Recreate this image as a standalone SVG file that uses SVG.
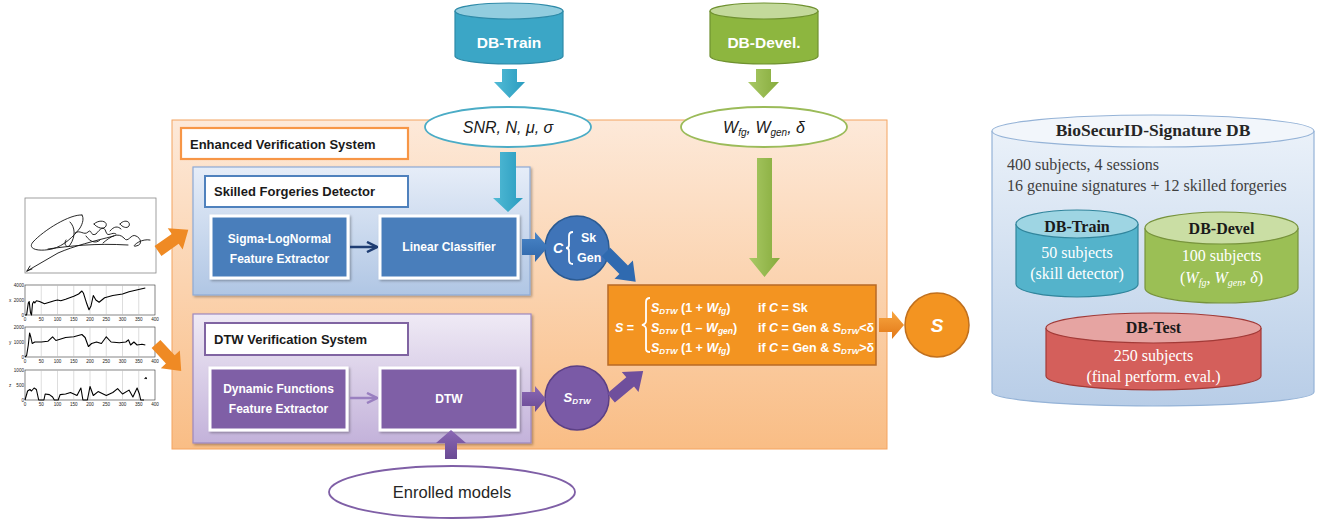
<svg xmlns="http://www.w3.org/2000/svg" width="1320" height="521" viewBox="0 0 1320 521">
<defs>
  <linearGradient id="gEnh" x1="0" y1="0" x2="0" y2="1"><stop offset="0" stop-color="#fde9d9"/><stop offset="1" stop-color="#f9bd85"/></linearGradient>
  <linearGradient id="gSk" x1="0" y1="0" x2="0" y2="1"><stop offset="0" stop-color="#e6edf8"/><stop offset="1" stop-color="#b0c6e4"/></linearGradient>
  <linearGradient id="gDtw" x1="0" y1="0" x2="0" y2="1"><stop offset="0" stop-color="#efeaf5"/><stop offset="1" stop-color="#c3b2da"/></linearGradient>
  <linearGradient id="gBio" x1="0" y1="0" x2="0" y2="1"><stop offset="0" stop-color="#eaf1f9"/><stop offset="1" stop-color="#b8cde7"/></linearGradient>
  <linearGradient id="gCyan" x1="0" y1="0" x2="1" y2="0"><stop offset="0" stop-color="#52bbd6"/><stop offset="1" stop-color="#2a9cbf"/></linearGradient>
  <linearGradient id="gGreen" x1="0" y1="0" x2="1" y2="0"><stop offset="0" stop-color="#a9c965"/><stop offset="1" stop-color="#86ab3c"/></linearGradient>
  <linearGradient id="gBlue" x1="0" y1="0" x2="0" y2="1"><stop offset="0" stop-color="#4a86c8"/><stop offset="1" stop-color="#2e65a8"/></linearGradient>
  <linearGradient id="gPurp" x1="0" y1="0" x2="0" y2="1"><stop offset="0" stop-color="#8a68b4"/><stop offset="1" stop-color="#6a4a94"/></linearGradient>
  <linearGradient id="gOr" x1="0" y1="0" x2="0" y2="1"><stop offset="0" stop-color="#f8a640"/><stop offset="1" stop-color="#e27817"/></linearGradient>
  <filter id="sh" x="-10%" y="-10%" width="130%" height="130%"><feDropShadow dx="1.5" dy="1.5" stdDeviation="1.2" flood-color="#000" flood-opacity="0.3"/></filter>
  <marker id="mDB" viewBox="0 0 10 10" refX="9" refY="5" markerWidth="5" markerHeight="5" orient="auto"><path d="M1,1 L9,5 L1,9" fill="none" stroke="#1f3d73" stroke-width="2"/></marker>
  <marker id="mPU" viewBox="0 0 10 10" refX="9" refY="5" markerWidth="5" markerHeight="5" orient="auto"><path d="M1,1 L9,5 L1,9" fill="none" stroke="#9a80c0" stroke-width="2"/></marker>
  <path id="arr40" d="M0,-6 L25,-6 L25,-13 L42,0 L25,13 L25,6 L0,6 Z"/>
  <path id="arr37" d="M0,-6 L21,-6 L21,-13 L37,0 L21,13 L21,6 L0,6 Z"/>
</defs>
<style>
  .sans{font-family:"Liberation Sans",Arial,sans-serif}
  .serif{font-family:"Liberation Serif","Times New Roman",serif}
  .ttl{font-family:"Liberation Sans",Arial,sans-serif;font-weight:bold;font-size:13px;fill:#1a1a1a}
  .wb{font-family:"Liberation Sans",Arial,sans-serif;font-weight:bold;font-size:12px;fill:#ffffff}
  .fx{font-family:"Liberation Sans",Arial,sans-serif;font-weight:bold;font-size:12.5px;fill:#ffffff}
  .tick{font-family:"Liberation Sans",Arial,sans-serif;font-size:4.6px;fill:#222}
  .plot{fill:none;stroke:#000;stroke-width:1.1;stroke-linejoin:round}
  .grid{stroke:#bbb;stroke-width:0.5}
  .axis{fill:#fff;stroke:#333;stroke-width:0.6}
  .sig{fill:none;stroke:#111;stroke-width:0.9;stroke-linecap:round}
  .db{font-family:"Liberation Serif","Times New Roman",serif;font-size:16px;fill:#ffffff;text-anchor:middle}
  .dbh{font-family:"Liberation Serif","Times New Roman",serif;font-size:16px;font-weight:bold;fill:#1a1a1a;text-anchor:middle}
</style>

<!-- Left input: signature image and plots -->
<g id="input-signature">
  <rect x="25" y="198" width="131" height="75" fill="#fff" stroke="#888" stroke-width="0.8"/>
  <path class="sig" d="M82,215 C70,214 44,230 33,242 C27,249 38,252 52,249 C64,246 74,236 80,228 C83,223 84,218 82,215"/>
  <path class="sig" d="M27,271 L30,266 M27,271 L32,269 M27,271 L58,253 C74,246 94,241 114,236"/>
  <path class="sig" d="M48,249 C70,246 95,243 128,245"/>
  <path class="sig" d="M70,222 C75,227 76,236 70,245 C67,249 63,244 66,240 M75,233 C80,229 84,236 88,232 C92,228 90,237 96,234 C100,229 104,225 106,232 C108,238 112,231 116,234 M94,224 C99,219 108,221 106,226 C104,230 97,228 94,224 M86,236 C90,242 96,244 100,240"/>
  <path class="sig" d="M103,243 C111,236 118,232 124,238 C128,244 131,233 136,236 C141,238 143,245 136,246 C130,248 140,238 150,240 M120,224 C124,219 131,221 129,226 C127,229 122,227 120,224 M110,231 C114,226 118,226 121,229"/>
</g>
<g id="input-plots">
  <rect class="axis" x="25" y="285" width="130" height="30"/>
  <rect class="axis" x="25" y="327" width="130" height="30"/>
  <rect class="axis" x="25" y="370" width="130" height="30"/>
  <g class="grid">
    <path d="M41.25,285V315M57.5,285V315M73.75,285V315M90,285V315M106.25,285V315M122.5,285V315M138.75,285V315"/>
    <path d="M41.25,327V357M57.5,327V357M73.75,327V357M90,327V357M106.25,327V357M122.5,327V357M138.75,327V357"/>
    <path d="M41.25,370V400M57.5,370V400M73.75,370V400M90,370V400M106.25,370V400M122.5,370V400M138.75,370V400"/>
  </g>
  <polyline class="plot" points="25,315 26.6,315 28.3,303 29.2,301.5 30.5,312.8 31.5,315 32.5,303.8 33.8,301.5 34.8,303 36.4,300.8 39.6,301.5 44.5,303.8 49.4,302.3 54.3,300.8 57.5,300 60.8,300.8 65.6,299.3 73.8,296.3 78.6,294 81.9,291 83.5,293.3 86.8,303.8 89,309.8 91,306 93.3,295.5 95.9,300 99.1,302.3 104.6,297.8 112.8,295.5 122.5,294 129,291.8 135.5,290.3 142,288.8 145.3,288"/>
  <polyline class="plot" points="25,357 26.6,355.5 28.3,345 29.6,333 30.9,337.5 32.2,343.5 34.8,342 41.3,342 47.8,341.3 52.6,336.8 55.9,340.5 60.8,339 65.6,337.5 73.8,336.8 81.9,334.5 85.1,337.5 88.4,346.5 91.6,343.5 96.5,342 101.4,343.5 106.3,336.8 111.1,342 119.3,342.8 125.8,342 128.4,339.8 130.6,345 133.9,342 137.1,345 142,344.3 145.3,345"/>
  <polyline class="plot" points="25,400 27.6,391 29.9,389.5 31.5,391 34.1,388 36.4,389.5 38.7,400 43.9,400 45.2,394 49.4,394.6 52.6,397 54.3,400 58.2,400 60.1,394.6 65.6,394 70.5,392.5 77,395.5 80.9,388 82.9,400 87.4,400 90,386.5 93.3,395.5 98.1,391.6 106.3,395.5 112.8,392.5 117.6,388.6 122.5,394 129,390.1 132.9,397 137.1,388 139.4,394 140.7,400 144,400"/>
  <polyline class="plot" points="144.6,379 145.9,377.5 146.6,379"/>
  <g class="tick" text-anchor="end">
    <text x="24" y="287">4000</text><text x="24" y="302">2000</text><text x="24" y="316.5">0</text>
    <text x="24" y="329">2000</text><text x="24" y="344">1000</text><text x="24" y="358.5">0</text>
    <text x="24" y="372">1000</text><text x="24" y="387">500</text><text x="24" y="401.5">0</text>
  </g>
  <g class="tick">
    <text x="9" y="302">x</text><text x="9" y="344">y</text><text x="9" y="387">z</text>
  </g>
  <g class="tick" text-anchor="middle">
    <text x="25" y="321">0</text><text x="41.25" y="321">50</text><text x="57.5" y="321">100</text><text x="73.75" y="321">150</text><text x="90" y="321">200</text><text x="106.25" y="321">250</text><text x="122.5" y="321">300</text><text x="138.75" y="321">350</text><text x="155" y="321">400</text>
    <text x="25" y="363">0</text><text x="41.25" y="363">50</text><text x="57.5" y="363">100</text><text x="73.75" y="363">150</text><text x="90" y="363">200</text><text x="106.25" y="363">250</text><text x="122.5" y="363">300</text><text x="138.75" y="363">350</text><text x="155" y="363">400</text>
    <text x="25" y="406">0</text><text x="41.25" y="406">50</text><text x="57.5" y="406">100</text><text x="73.75" y="406">150</text><text x="90" y="406">200</text><text x="106.25" y="406">250</text><text x="122.5" y="406">300</text><text x="138.75" y="406">350</text><text x="155" y="406">400</text>
  </g>
</g>

<!-- Enhanced Verification System container -->
<g id="enhanced-system">
  <rect x="172" y="120" width="715" height="329" fill="url(#gEnh)" stroke="#f4a460" stroke-width="1"/>
  <rect x="181" y="128" width="227" height="31" fill="#fff" stroke="#f79646" stroke-width="2.2"/>
  <text class="ttl" x="190" y="148.5">Enhanced Verification System</text>
</g>

<g id="skilled-detector">
  <rect x="193" y="167" width="337" height="128" fill="url(#gSk)" stroke="#8eaad6" stroke-width="1.2" filter="url(#sh)"/>
  <rect x="205" y="176" width="203" height="31" fill="#fff" stroke="#4f81bd" stroke-width="2"/>
  <text class="ttl" x="214" y="196">Skilled Forgeries Detector</text>
</g>
<g id="sigma-lognormal">
  <rect x="211" y="216" width="137" height="62" fill="#4a7ebb" stroke="#fff" stroke-width="3" filter="url(#sh)"/>
  <text class="wb" x="279.5" y="243" text-anchor="middle">Sigma-LogNormal</text>
  <text class="wb" x="279.5" y="263" text-anchor="middle">Feature Extractor</text>
</g>
<g id="linear-classifier">
  <rect x="380" y="216" width="138" height="62" fill="#4a7ebb" stroke="#fff" stroke-width="3" filter="url(#sh)"/>
  <text class="wb" x="449" y="251" text-anchor="middle">Linear Classifier</text>
</g>

<g id="dtw-system">
  <rect x="193" y="314" width="338" height="129" fill="url(#gDtw)" stroke="#9d88bf" stroke-width="1.2" filter="url(#sh)"/>
  <rect x="205" y="323" width="203" height="32" fill="#fff" stroke="#8064a2" stroke-width="2"/>
  <text class="ttl" x="214" y="344">DTW Verification System</text>
</g>
<g id="dynamic-functions">
  <rect x="210" y="368" width="137" height="62" fill="#7f5fa6" stroke="#fff" stroke-width="3" filter="url(#sh)"/>
  <text class="wb" x="278.5" y="393" text-anchor="middle">Dynamic Functions</text>
  <text class="wb" x="278.5" y="413" text-anchor="middle">Feature Extractor</text>
</g>
<g id="dtw">
  <rect x="380" y="368" width="138" height="62" fill="#7f5fa6" stroke="#fff" stroke-width="3" filter="url(#sh)"/>
  <text class="wb" x="449" y="403" text-anchor="middle">DTW</text>
</g>

<!-- Top databases -->
<g id="db-train-top">
  <path d="M455,11 V56 A54,8 0 0 0 563,56 V11" fill="#3ba6c6" stroke="#2e8aa8" stroke-width="1.2"/>
  <ellipse cx="509" cy="11" rx="54" ry="8" fill="#92cddf" stroke="#2e8aa8" stroke-width="1.2"/>
  <text class="sans" x="509" y="48" text-anchor="middle" font-weight="bold" font-size="15.5" fill="#fff">DB-Train</text>
</g>
<g id="db-devel-top">
  <path d="M710,11 V56 A54,8 0 0 0 818,56 V11" fill="#8db63f" stroke="#6f9130" stroke-width="1.2"/>
  <ellipse cx="764" cy="11" rx="54" ry="8" fill="#c3d99b" stroke="#6f9130" stroke-width="1.2"/>
  <text class="sans" x="764" y="48" text-anchor="middle" font-weight="bold" font-size="15.5" fill="#fff">DB-Devel.</text>
</g>

<g id="params-train">
  <ellipse cx="508" cy="127" rx="83" ry="20" fill="#fff" stroke="#4bacc6" stroke-width="1.8"/>
  <text class="sans" x="508" y="133" text-anchor="middle" font-style="italic" font-size="16" fill="#1a1a1a">SNR, N, μ, σ</text>
</g>
<g id="params-devel">
  <ellipse cx="764" cy="127" rx="83" ry="20" fill="#fff" stroke="#9bbb59" stroke-width="1.8"/>
  <text class="sans" x="764" y="133" text-anchor="middle" font-style="italic" font-size="16" fill="#1a1a1a">W<tspan font-size="10" dy="3">fg</tspan><tspan dy="-3">, W</tspan><tspan font-size="10" dy="3">gen</tspan><tspan dy="-3">, δ</tspan></text>
</g>

<!-- Class circle -->
<g id="class-c">
  <circle cx="577" cy="248" r="32" fill="#3f74b8" stroke="#2a5a92" stroke-width="1.5"/>
  <text class="sans" x="553" y="253" font-style="italic" font-weight="bold" font-size="14" fill="#fff">C</text>
  <path d="M573,232 Q569,232 569,236 V245 Q569,248 566,248 Q569,248 569,251 V260 Q569,264 573,264" fill="none" stroke="#fff" stroke-width="1.8"/>
  <text class="fx" x="581" y="242">Sk</text>
  <text class="fx" x="577" y="262">Gen</text>
</g>
<g id="sdtw-circle">
  <circle cx="577" cy="398" r="32" fill="#7a5aa6" stroke="#5b3f85" stroke-width="1.5"/>
  <text class="sans" x="577" y="402" text-anchor="middle" font-weight="bold" font-style="italic" font-size="13" fill="#fff">S<tspan font-size="8" dy="2">DTW</tspan></text>
</g>

<!-- Fusion formula -->
<g id="fusion-formula">
  <rect x="608" y="285" width="268" height="80" fill="#f39421" stroke="#b86a26" stroke-width="1.5"/>
  <text class="fx" x="615" y="332" font-style="italic">S<tspan font-style="normal"> =</tspan></text>
  <path d="M650,298 Q646,298 646,302 V321 Q646,324 642,325 Q646,326 646,329 V349 Q646,352 650,352" fill="none" stroke="#fff" stroke-width="1.8"/>
  <text class="fx" x="651" y="312"><tspan font-style="italic">S</tspan><tspan font-style="italic" font-size="8" dy="2">DTW</tspan><tspan dy="-2"> (1 + </tspan><tspan font-style="italic">W</tspan><tspan font-style="italic" font-size="8.5" dy="2">fg</tspan><tspan dy="-2">)</tspan></text>
  <text class="fx" x="651" y="332"><tspan font-style="italic">S</tspan><tspan font-style="italic" font-size="8" dy="2">DTW</tspan><tspan dy="-2"> (1 – </tspan><tspan font-style="italic">W</tspan><tspan font-style="italic" font-size="8.5" dy="2">gen</tspan><tspan dy="-2">)</tspan></text>
  <text class="fx" x="651" y="352"><tspan font-style="italic">S</tspan><tspan font-style="italic" font-size="8" dy="2">DTW</tspan><tspan dy="-2"> (1 + </tspan><tspan font-style="italic">W</tspan><tspan font-style="italic" font-size="8.5" dy="2">fg</tspan><tspan dy="-2">)</tspan></text>
  <text class="fx" x="758" y="312">if <tspan font-style="italic">C</tspan> = Sk</text>
  <text class="fx" x="758" y="332">if <tspan font-style="italic">C</tspan> = Gen &amp; <tspan font-style="italic">S</tspan><tspan font-style="italic" font-size="8" dy="2">DTW</tspan><tspan dy="-2">&lt;δ</tspan></text>
  <text class="fx" x="758" y="352">if <tspan font-style="italic">C</tspan> = Gen &amp; <tspan font-style="italic">S</tspan><tspan font-style="italic" font-size="8" dy="2">DTW</tspan><tspan dy="-2">&gt;δ</tspan></text>
</g>
<g id="score-s">
  <circle cx="937" cy="325" r="32" fill="#f39421" stroke="#c0701e" stroke-width="1.5"/>
  <text class="sans" x="937" y="332" text-anchor="middle" font-weight="bold" font-style="italic" font-size="19" fill="#fff">S</text>
</g>

<g id="enrolled-models">
  <ellipse cx="452" cy="492" rx="123" ry="26" fill="#fff" stroke="#7f5fa6" stroke-width="1.8"/>
  <text class="sans" x="452" y="498" text-anchor="middle" font-size="16.5" fill="#262626">Enrolled models</text>
</g>

<!-- Connectors -->
<g id="connectors">
  <polygon points="502,69 517,69 517,82 525,82 509.5,98 494,82 502,82" fill="url(#gCyan)"/>
  <polygon points="756,69 771,69 771,82 779,82 763.5,98 748,82 756,82" fill="url(#gGreen)"/>
  <polygon points="500,152 516,152 516,198 523,198 508,212 493,198 500,198" fill="url(#gCyan)"/>
  <polygon points="757,158 772,158 772,258 780,258 764.5,277 749,258 757,258" fill="url(#gGreen)"/>
  <polygon points="522,239 535,239 535,232 548,247 535,262 535,255 522,255" fill="url(#gBlue)"/>
  <polygon points="522,392 535,392 535,386 546,399 535,412 535,406 522,406" fill="url(#gPurp)"/>
  <polygon points="879,318 892,318 892,311 904,325 892,339 892,332 879,332" fill="url(#gOr)"/>
  <polygon points="445,459 457,459 457,443 466,443 451,430 436,443 445,443" fill="url(#gPurp)"/>
  <use href="#arr40" transform="translate(606,252) rotate(45)" fill="#2f6ab0"/>
  <use href="#arr40" transform="translate(611,398) rotate(-40)" fill="#6f4f9c"/>
  <use href="#arr37" transform="translate(158,251) rotate(-35)" fill="#ef8a24"/>
  <use href="#arr37" transform="translate(156,344) rotate(47)" fill="#ef8a24"/>
  <line x1="350" y1="247" x2="377" y2="247" stroke="#1f3d73" stroke-width="2.5" marker-end="url(#mDB)"/>
  <line x1="350" y1="398" x2="377" y2="398" stroke="#9a80c0" stroke-width="2.5" marker-end="url(#mPU)"/>
</g>

<!-- Database description -->
<g id="biosecurid-db">
  <path d="M992,131 V392 A161,14 0 0 0 1314,392 V131" fill="url(#gBio)" stroke="#95b3d7" stroke-width="1.2"/>
  <ellipse cx="1153" cy="131" rx="161" ry="16" fill="#f2f6fb" stroke="#95b3d7" stroke-width="1.2"/>
  <text class="serif" x="1153" y="136" text-anchor="middle" font-weight="bold" font-size="17.5" fill="#262626">BioSecurID-Signature DB</text>
  <text class="serif" x="1007" y="170" font-size="16" fill="#404040">400 subjects, 4 sessions</text>
  <text class="serif" x="1007" y="191" font-size="16" fill="#404040">16 genuine signatures + 12 skilled forgeries</text>
</g>
<g id="db-train">
  <path d="M1016,224 V284 A61,13 0 0 0 1138,284 V224" fill="#54b3cb" stroke="#31859c" stroke-width="1.2"/>
  <ellipse cx="1077" cy="224" rx="61" ry="14" fill="#9ed5e3" stroke="#31859c" stroke-width="1.2"/>
  <text class="dbh" x="1077" y="232">DB-Train</text>
  <text class="db" x="1077" y="258">50 subjects</text>
  <text class="db" x="1077" y="279">(skill detector)</text>
</g>
<g id="db-devel">
  <path d="M1145,228 V288 A76.5,15 0 0 0 1298,288 V228" fill="#9bbf55" stroke="#77933c" stroke-width="1.2"/>
  <ellipse cx="1221.5" cy="228" rx="76.5" ry="16" fill="#cadea4" stroke="#77933c" stroke-width="1.2"/>
  <text class="dbh" x="1221.5" y="234">DB-Devel</text>
  <text class="db" x="1221.5" y="261">100 subjects</text>
  <text class="db" x="1221.5" y="283">(<tspan font-style="italic">W</tspan><tspan font-style="italic" font-size="10" dy="3">fg</tspan><tspan dy="-3">, </tspan><tspan font-style="italic">W</tspan><tspan font-style="italic" font-size="10" dy="3">gen</tspan><tspan dy="-3">, </tspan><tspan font-style="italic">δ</tspan>)</text>
</g>
<g id="db-test">
  <path d="M1046,328 V376 A107.5,14 0 0 0 1261,376 V328" fill="#d45f5b" stroke="#a23a37" stroke-width="1.2"/>
  <ellipse cx="1153.5" cy="328" rx="107.5" ry="15" fill="#e6a4a2" stroke="#a23a37" stroke-width="1.2"/>
  <text class="dbh" x="1153.5" y="333">DB-Test</text>
  <text class="db" x="1153.5" y="361">250 subjects</text>
  <text class="db" x="1153.5" y="382">(final perform. eval.)</text>
</g>
</svg>
